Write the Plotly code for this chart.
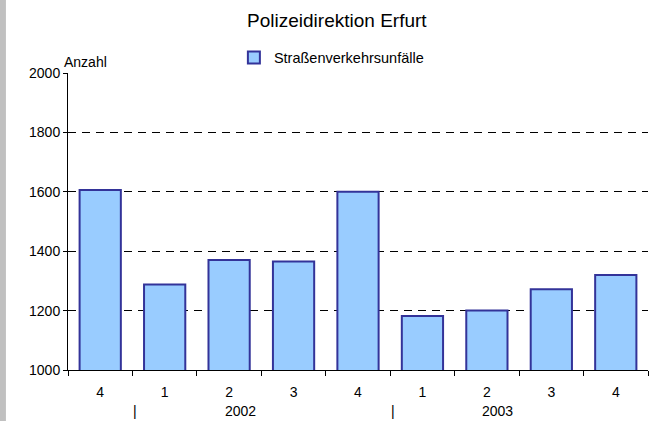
import plotly.graph_objects as go

quarters = ["4", "1", "2", "3", "4", "1", "2", "3", "4"]
accidents = [1606, 1288, 1370, 1365, 1600, 1182, 1200, 1272, 1320]
year_labels = ["|", "2002", "|", "2003"]
year_label_pos = [0.54, 2.17, 4.54, 6.16]
series_name = "Straßenverkehrsunfälle"

xs = list(range(len(quarters)))
font = "Liberation Sans, Arial, sans-serif"

fig = go.Figure()
fig.add_trace(go.Bar(
    x=xs, y=accidents, name=series_name,
    marker=dict(color="#99CCFF", line=dict(color="#333399", width=2)),
    width=0.64, showlegend=True,
))

annotations = [
    dict(x=p, y=-0.138, xref="x", yref="paper", text=t, showarrow=False,
         font=dict(family=font, size=14, color="black"), yanchor="middle")
    for t, p in zip(year_labels, year_label_pos)
]
annotations.append(dict(x=-0.5, y=2000, xref="x", yref="y", text="Anzahl", showarrow=False,
                        xanchor="left", yanchor="bottom", xshift=-6, yshift=1,
                        font=dict(family=font, size=14, color="black")))

fig.update_layout(
    width=667, height=421,
    margin=dict(l=68, r=19, t=73, b=51),
    paper_bgcolor="white", plot_bgcolor="white",
    title=dict(text="Polizeidirektion Erfurt", x=0.505, xanchor="center", y=0.952, yanchor="middle",
               font=dict(family=font, size=19, color="black")),
    legend=dict(orientation="h", x=0.286, xanchor="left", y=1.052, yanchor="middle",
                font=dict(family=font, size=14.5, color="black"), bgcolor="rgba(0,0,0,0)",
                itemwidth=30),
    font=dict(family=font, size=14, color="black"),
    annotations=annotations,
    shapes=[dict(type="rect", xref="paper", yref="paper", x0=-0.125, x1=-0.107, y0=-0.2, y1=1.3,
                 fillcolor="#C0C0C0", line=dict(width=0), layer="below")],
)
fig.update_xaxes(
    range=[-0.5, 8.5], tickvals=xs, ticktext=quarters, ticks="", showgrid=False,
    showline=True, linecolor="black", linewidth=1, zeroline=False, ticklabelstandoff=9,
    tickfont=dict(family=font, size=14, color="black"),
    minor=dict(tickvals=[i - 0.5 for i in range(len(quarters) + 1)], ticks="outside",
               ticklen=5, tickcolor="black", showgrid=False),
)
fig.update_yaxes(
    range=[1000, 2000], tickvals=[1000, 1200, 1400, 1600, 1800, 2000],
    ticks="outside", ticklen=4, tickcolor="black", showline=True, linecolor="black", linewidth=1,
    showgrid=True, gridcolor="black", gridwidth=1, griddash="8px,6px", zeroline=False,
    tickfont=dict(family=font, size=14, color="black"),
)
fig.write_html("out.html", config={"displayModeBar": False},
               post_script="document.body.style.margin='0';")
